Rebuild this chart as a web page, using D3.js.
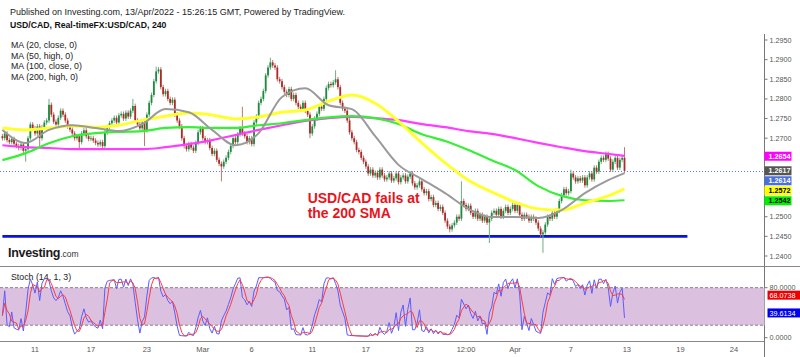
<!DOCTYPE html>
<html><head><meta charset="utf-8">
<script src="https://cdn.jsdelivr.net/npm/d3@7"></script>
<style>body{margin:0;background:#fff}svg{display:block;font-family:"Liberation Sans",Arial,sans-serif}</style>
</head><body><svg id="c" width="800" height="357"></svg>
<script>
// ---- data ----
const closes = [
1.2700,1.2712,1.2695,1.2690,1.2698,1.2686,1.2680,1.2675,1.2684,1.2668,
1.2672,1.2700,1.2735,1.2725,1.2712,1.2730,1.2700,1.2728,1.2740,1.2745,
1.2785,1.2760,1.2742,1.2735,1.2752,1.2770,1.2760,1.2745,1.2730,1.2722,
1.2712,1.2700,1.2705,1.2690,1.2712,1.2720,1.2705,1.2698,1.2700,1.2694,
1.2688,1.2684,1.2690,1.2680,1.2715,1.2728,1.2738,1.2745,1.2752,1.2740,
1.2758,1.2762,1.2750,1.2765,1.2755,1.2770,1.2782,1.2745,1.2735,1.2725,
1.2740,1.2720,1.2760,1.2790,1.2810,1.2845,1.2870,1.2875,1.2830,1.2812,
1.2820,1.2800,1.2790,1.2798,1.2760,1.2745,1.2730,1.2700,1.2680,1.2672,
1.2685,1.2676,1.2668,1.2688,1.2715,1.2725,1.2700,1.2690,1.2695,1.2675,
1.2660,1.2668,1.2645,1.2635,1.2628,1.2640,1.2650,1.2665,1.2680,1.2700,
1.2690,1.2710,1.2725,1.2712,1.2705,1.2690,1.2700,1.2685,1.2740,1.2755,
1.2790,1.2800,1.2820,1.2860,1.2880,1.2893,1.2885,1.2880,1.2850,1.2845,
1.2830,1.2818,1.2810,1.2825,1.2800,1.2810,1.2790,1.2780,1.2775,1.2790,
1.2770,1.2760,1.2712,1.2730,1.2750,1.2762,1.2780,1.2775,1.2800,1.2828,
1.2838,1.2835,1.2842,1.2850,1.2830,1.2790,1.2775,1.2770,1.2745,1.2715,
1.2700,1.2690,1.2670,1.2665,1.2650,1.2640,1.2628,1.2610,1.2620,1.2605,
1.2612,1.2600,1.2620,1.2605,1.2595,1.2600,1.2610,1.2592,1.2598,1.2610,
1.2588,1.2600,1.2605,1.2590,1.2602,1.2610,1.2585,1.2575,1.2580,1.2590,
1.2570,1.2560,1.2565,1.2545,1.2550,1.2530,1.2535,1.2520,1.2525,1.2510,
1.2490,1.2475,1.2468,1.2478,1.2485,1.2500,1.2495,1.2540,1.2530,1.2520,
1.2528,1.2510,1.2500,1.2515,1.2495,1.2505,1.2490,1.2500,1.2485,1.2495,
1.2510,1.2515,1.2505,1.2520,1.2500,1.2515,1.2525,1.2510,1.2520,1.2530,
1.2515,1.2530,1.2505,1.2495,1.2505,1.2500,1.2490,1.2500,1.2495,1.2485,
1.2470,1.2455,1.2460,1.2480,1.2500,1.2495,1.2510,1.2500,1.2515,1.2540,
1.2555,1.2570,1.2560,1.2565,1.2610,1.2600,1.2590,1.2598,1.2592,1.2600,
1.2580,1.2600,1.2610,1.2595,1.2625,1.2615,1.2640,1.2650,1.2645,1.2660,
1.2648,1.2620,1.2640,1.2650,1.2625,1.2645,1.2650,1.2617];
const firstOpen = 1.2705;
const wickHighs = [[20,1.2800],[56,1.2800],[66,1.2882],[103,1.2780],[115,1.2905],[143,1.2873],[197,1.2590],[244,1.2620],[267,1.2677]];
const wickLows = [[10,1.2640],[16,1.2680],[33,1.2672],[61,1.2680],[94,1.2590],[132,1.2700],[192,1.2460],[209,1.2433],[232,1.2408]];
const defaultWick = 0.0006;

const maIndex = [0,10,20,30,40,50,60,70,80,90,100,110,120,130,140,150,160,170,180,190,200,210,220,230,240,250,260,267];
const ma20  = [1.2721,1.2688,1.2721,1.2733,1.2726,1.2718,1.2736,1.2774,1.2766,1.2721,1.2682,1.2713,1.2805,1.2827,1.2784,1.2774,1.2705,1.2632,1.2596,1.2560,1.2520,1.2499,1.2499,1.2497,1.2517,1.2560,1.2593,1.2611];
const ma50  = [1.2726,1.2721,1.2726,1.2731,1.2728,1.2733,1.2746,1.2756,1.2764,1.2759,1.2749,1.2754,1.2766,1.2772,1.2794,1.2810,1.2789,1.2743,1.2688,1.2637,1.2593,1.2563,1.2537,1.2520,1.2517,1.2535,1.2553,1.2571];
const ma100 = [1.2644,1.2662,1.2687,1.2705,1.2713,1.2716,1.2718,1.2726,1.2728,1.2726,1.2726,1.2733,1.2738,1.2746,1.2753,1.2756,1.2751,1.2736,1.2710,1.2693,1.2670,1.2644,1.2619,1.2578,1.2553,1.2542,1.2540,1.2542];
const ma200 = [1.2682,1.2677,1.2675,1.2672,1.2672,1.2672,1.2672,1.2677,1.2685,1.2695,1.2708,1.2721,1.2733,1.2744,1.2751,1.2754,1.2751,1.2746,1.2736,1.2728,1.2718,1.2711,1.2700,1.2688,1.2677,1.2667,1.2660,1.2655];

const priceTicks = [1.2400,1.2450,1.2500,1.2550,1.2600,1.2650,1.2700,1.2750,1.2800,1.2850,1.2900,1.2950];
const dateTickIdx = [14,38,62,86,107,133,156,179,199,220,244,268,291,314];
const dateTickLabels = ["11","17","23","Mar","6","11","17","23","12:00","Apr","7","13","19","24"];
const stochTicks = [0,80];
const stochBand = [20,80];

const supportLevel = 1.2450;
const supportSpan = [0,294];
const lastPrice = 1.2617;
const priceLabelValues = [1.2654,1.2617,1.2614,1.2572,1.2542];
const stochLabelValues = [68.0738,39.6134];

const headerLines = ["Published on Investing.com, 13/Apr/2022 - 15:26:15 GMT, Powered by TradingView.","USD/CAD, Real-timeFX:USD/CAD, 240"];
const legendLines = ["MA (20, close, 0)","MA (50, high, 0)","MA (100, close, 0)","MA (200, high, 0)"];
const stochTitle = "Stoch (14, 1, 3)";
const noteLines = ["USD/CAD fails at","the 200 SMA"];
const noteAnchor = {idx:131, price:[1.2534,1.2497]};

// ---- build candles ----
const hiMap = new Map(wickHighs), loMap = new Map(wickLows);
const candles = closes.map((c,i)=>{
  const o = i===0 ? firstOpen : closes[i-1];
  const h = hiMap.has(i) ? hiMap.get(i) : Math.max(o,c)+defaultWick;
  const l = loMap.has(i) ? loMap.get(i) : Math.min(o,c)-defaultWick;
  return {i,o,h,l,c};
});
// stochastic (14,1,3) computed from the candles
const K = candles.map((d,i)=>{
  const s = candles.slice(Math.max(0,i-13), i+1);
  const hh = d3.max(s,e=>e.h), ll = d3.min(s,e=>e.l);
  return hh===ll ? 50 : 100*(d.c-ll)/(hh-ll);
});
const D = K.map((k,i)=>d3.mean(K.slice(Math.max(0,i-2), i+1)));

// ---- scales ----
const svg = d3.select("#c");
const axisX = 764.5;
const x = d3.scaleLinear().domain([0,314]).range([2.4, 2.4+314*2.33]);
const y = d3.scaleLinear().domain([1.24,1.295]).range([256,40]);
const ys = d3.scaleLinear().domain([0,100]).range([337.7,275.2]);

// header text
svg.append("text").attr("x",10).attr("y",15).attr("font-size",9).attr("fill","#222").text(headerLines[0]);
svg.append("text").attr("x",10).attr("y",28).attr("font-size",8.7).attr("font-weight","bold").attr("fill","#111").text(headerLines[1]);
legendLines.forEach((t,k)=>svg.append("text").attr("x",11).attr("y",48+k*10.7).attr("font-size",8.8).attr("fill","#222").text(t));

// panel separators
svg.append("line").attr("x1",0).attr("x2",800).attr("y1",266.5).attr("y2",266.5).attr("stroke","#888").attr("stroke-width",1);
svg.append("line").attr("x1",0).attr("x2",axisX).attr("y1",341.5).attr("y2",341.5).attr("stroke","#888").attr("stroke-width",1);
svg.append("line").attr("x1",axisX).attr("x2",axisX).attr("y1",34).attr("y2",357).attr("stroke","#777").attr("stroke-width",1);

// price label positions (stacked to avoid overlap)
let prevY = -Infinity;
const placed = priceLabelValues.map((v,k)=>({v,k,yy:y(v)})).sort((a,b)=>a.yy-b.yy).map(d=>{
  const yy = Math.max(d.yy, prevY+10); prevY = yy; return {...d, yy};
});

// price axis (ticks hidden under a price label are skipped)
const pa = svg.append("g");
priceTicks.forEach(v=>{
  const ty = y(v);
  if (placed.some(p=>Math.abs(p.yy-ty)<9)) return;
  pa.append("line").attr("x1",axisX).attr("x2",axisX+3).attr("y1",ty).attr("y2",ty).attr("stroke","#777");
  pa.append("text").attr("x",axisX+5).attr("y",ty+2.5).attr("font-size",7.2).attr("fill","#555").text(v.toFixed(4));
});

// last price dotted line
svg.append("line").attr("x1",0).attr("x2",axisX).attr("y1",Math.round(y(lastPrice))+0.5).attr("y2",Math.round(y(lastPrice))+0.5)
  .attr("stroke","#5b7fe0").attr("stroke-width",1).attr("stroke-dasharray","1,2");

// support line
svg.append("line").attr("x1",x(supportSpan[0])).attr("x2",x(supportSpan[1])).attr("y1",y(supportLevel)).attr("y2",y(supportLevel))
  .attr("stroke","#0a14d8").attr("stroke-width",2.6);

// candles
const cg = svg.append("g");
cg.selectAll("line").data(candles).join("line")
  .attr("x1",d=>x(d.i)).attr("x2",d=>x(d.i)).attr("y1",d=>y(d.h)).attr("y2",d=>y(d.l))
  .attr("stroke",d=>d.c>=d.o?"#6fae82":"#b77a74").attr("stroke-width",1);
cg.selectAll("rect").data(candles).join("rect")
  .attr("x",d=>x(d.i)-0.9).attr("width",1.8)
  .attr("y",d=>y(Math.max(d.o,d.c))).attr("height",d=>Math.max(1,Math.abs(y(d.o)-y(d.c))))
  .attr("fill",d=>d.c>=d.o?"#1e8a3e":"#ad2a25");

// moving averages
const maLine = d3.line().x((d,k)=>x(maIndex[k])).y(d=>y(d)).curve(d3.curveMonotoneX);
[[ma200,"#ff3cff",2.2],[ma100,"#35f035",2.2],[ma50,"#ffff2e",3],[ma20,"#9a9a9a",2]].forEach(([arr,col,w])=>{
  svg.append("path").attr("d",maLine(arr)).attr("fill","none").attr("stroke",col).attr("stroke-width",w).attr("stroke-linejoin","round");
});

// price labels
const plColors = [["#ff00ff","#fff"],["#555555","#fff"],["#4a6fd8","#fff"],["#ffff00","#000"],["#00f000","#000"]];
placed.forEach(d=>{
  pa.append("rect").attr("x",axisX).attr("y",d.yy-4.5).attr("width",27).attr("height",9).attr("fill",plColors[d.k][0]);
  pa.append("text").attr("x",axisX+4).attr("y",d.yy+2.6).attr("font-size",7.2).attr("font-weight","bold").attr("fill",plColors[d.k][1]).text(d.v.toFixed(4));
});

// annotation
noteLines.forEach((t,k)=>svg.append("text").attr("x",x(noteAnchor.idx)).attr("y",y(noteAnchor.price[k]))
  .attr("font-size",14).attr("font-weight","bold").attr("fill","#e8141c").text(t));

// logo
const logo = svg.append("text").attr("x",8).attr("y",257).attr("fill","#1b1b1b");
logo.append("tspan").attr("font-size",12.5).attr("font-weight","bold").attr("letter-spacing",-0.3).text("Investing");
logo.append("tspan").attr("font-size",8.5).attr("fill","#333").text(".com");

// stochastic panel
svg.append("rect").attr("x",0).attr("width",axisX).attr("y",ys(stochBand[1])).attr("height",ys(stochBand[0])-ys(stochBand[1])).attr("fill","#dcc0df");
stochBand.forEach(v=>svg.append("line").attr("x1",0).attr("x2",axisX).attr("y1",ys(v)).attr("y2",ys(v)).attr("stroke","#8a7c8a").attr("stroke-dasharray","3,2"));
svg.append("text").attr("x",11).attr("y",280).attr("font-size",8.8).attr("fill","#222").text(stochTitle);
const sl = arr=>d3.line().x((d,i)=>x(i)).y(d=>ys(d))(arr);
svg.append("path").attr("d",sl(K)).attr("fill","none").attr("stroke","#5c5cff").attr("stroke-width",1);
svg.append("path").attr("d",sl(D)).attr("fill","none").attr("stroke","#ff3b3b").attr("stroke-width",1);
stochTicks.forEach(v=>{
  svg.append("line").attr("x1",axisX).attr("x2",axisX+3).attr("y1",ys(v)).attr("y2",ys(v)).attr("stroke","#777");
  svg.append("text").attr("x",axisX+5).attr("y",ys(v)+2.5).attr("font-size",7.2).attr("fill","#555").text(v.toFixed(4));
});
const slColors = ["#ee0000","#0000ee"];
stochLabelValues.forEach((v,k)=>{
  const yy = ys(v);
  svg.append("rect").attr("x",axisX+3).attr("y",yy-4.5).attr("width",33).attr("height",9).attr("fill",slColors[k]);
  svg.append("text").attr("x",axisX+5).attr("y",yy+2.6).attr("font-size",7.2).attr("fill","#fff").text(v.toFixed(4));
});

// date axis
dateTickIdx.forEach((idx,k)=>{
  svg.append("text").attr("x",x(idx)).attr("y",352).attr("text-anchor","middle").attr("font-size",7.5).attr("fill","#555").text(dateTickLabels[k]);
});
</script></body></html>
